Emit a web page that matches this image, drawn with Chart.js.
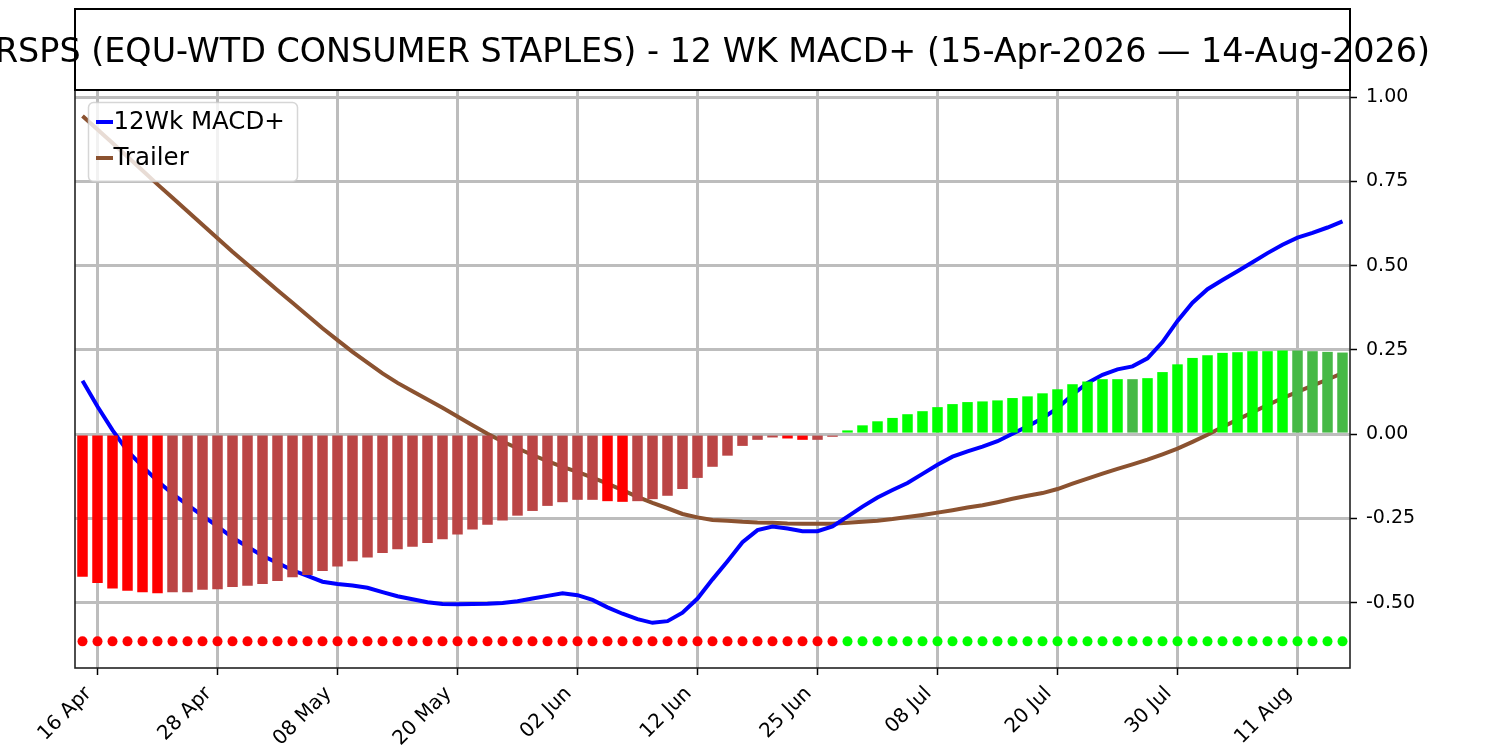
<!DOCTYPE html>
<html>
<head>
<meta charset="utf-8">
<title>RSPS 12 WK MACD+</title>
<script src="https://cdn.jsdelivr.net/npm/chart.js@4.4.1/dist/chart.umd.min.js"></script>
<style>
  body { margin: 0; background: #fff; }
  #wrap { width: 1500px; height: 750px; }
</style>
</head>
<body>
<div id="wrap"><canvas id="macdChart" width="1500" height="750"></canvas></div>
<script>
// Trading days on the chart (15 Apr - 14 Aug 2026)
const days = [
    '15 Apr', '16 Apr', '17 Apr', '20 Apr', '21 Apr', '22 Apr', '23 Apr', '24 Apr', '27 Apr', '28 Apr',
    '29 Apr', '30 Apr', '01 May', '04 May', '05 May', '06 May', '07 May', '08 May', '11 May', '12 May',
    '13 May', '14 May', '15 May', '18 May', '19 May', '20 May', '21 May', '22 May', '26 May', '27 May',
    '28 May', '29 May', '01 Jun', '02 Jun', '03 Jun', '04 Jun', '05 Jun', '08 Jun', '09 Jun', '10 Jun',
    '11 Jun', '12 Jun', '15 Jun', '16 Jun', '17 Jun', '18 Jun', '22 Jun', '23 Jun', '24 Jun', '25 Jun',
    '26 Jun', '29 Jun', '30 Jun', '01 Jul', '02 Jul', '06 Jul', '07 Jul', '08 Jul', '09 Jul', '10 Jul',
    '13 Jul', '14 Jul', '15 Jul', '16 Jul', '17 Jul', '20 Jul', '21 Jul', '22 Jul', '23 Jul', '24 Jul',
    '27 Jul', '28 Jul', '29 Jul', '30 Jul', '31 Jul', '03 Aug', '04 Aug', '05 Aug', '06 Aug', '07 Aug',
    '10 Aug', '11 Aug', '12 Aug', '13 Aug', '14 Aug'
];

// 12Wk MACD+ line
const macdPlus = [
    0.158, 0.082, 0.012, -0.050, -0.096, -0.139, -0.177, -0.210, -0.242, -0.274,
    -0.307, -0.334, -0.361, -0.382, -0.404, -0.421, -0.438, -0.445, -0.449, -0.456,
    -0.469, -0.481, -0.490, -0.499, -0.504, -0.505, -0.504, -0.503, -0.501, -0.496,
    -0.488, -0.480, -0.472, -0.478, -0.492, -0.514, -0.533, -0.549, -0.560, -0.555,
    -0.530, -0.488, -0.431, -0.377, -0.321, -0.285, -0.274, -0.280, -0.288, -0.288,
    -0.274, -0.245, -0.215, -0.188, -0.166, -0.145, -0.118, -0.091, -0.067, -0.051,
    -0.037, -0.021, 0.001, 0.023, 0.047, 0.077, 0.117, 0.152, 0.176, 0.192,
    0.201, 0.225, 0.273, 0.336, 0.390, 0.430, 0.457, 0.483, 0.510, 0.537,
    0.562, 0.583, 0.597, 0.613, 0.631
];

// Trailer (signal) line
const trailer = [
    0.944, 0.904, 0.864, 0.823, 0.782, 0.741, 0.701, 0.661, 0.621, 0.581,
    0.541, 0.503, 0.465, 0.427, 0.390, 0.352, 0.314, 0.279, 0.244, 0.212,
    0.180, 0.152, 0.127, 0.103, 0.078, 0.052, 0.026, 0.001, -0.022, -0.042,
    -0.062, -0.080, -0.097, -0.112, -0.129, -0.147, -0.166, -0.186, -0.204, -0.220,
    -0.237, -0.247, -0.255, -0.257, -0.260, -0.262, -0.263, -0.265, -0.266, -0.266,
    -0.266, -0.263, -0.260, -0.257, -0.252, -0.246, -0.240, -0.233, -0.226, -0.218,
    -0.211, -0.202, -0.192, -0.183, -0.175, -0.163, -0.147, -0.132, -0.117, -0.103,
    -0.090, -0.076, -0.060, -0.043, -0.023, -0.002, 0.021, 0.043, 0.065, 0.086,
    0.107, 0.125, 0.144, 0.162, 0.181
];

// Histogram bars
const histogram = [
    -0.423, -0.442, -0.458, -0.465, -0.469, -0.472, -0.469, -0.469, -0.462, -0.460,
    -0.454, -0.450, -0.445, -0.436, -0.425, -0.418, -0.406, -0.393, -0.377, -0.366,
    -0.353, -0.342, -0.334, -0.323, -0.312, -0.298, -0.283, -0.269, -0.256, -0.242,
    -0.228, -0.213, -0.202, -0.195, -0.195, -0.199, -0.201, -0.199, -0.193, -0.183,
    -0.163, -0.130, -0.097, -0.064, -0.035, -0.017, -0.010, -0.013, -0.017, -0.017,
    -0.008, 0.011, 0.026, 0.038, 0.048, 0.059, 0.068, 0.080, 0.089, 0.095,
    0.097, 0.100, 0.107, 0.112, 0.121, 0.133, 0.148, 0.156, 0.163, 0.163,
    0.163, 0.166, 0.184, 0.207, 0.226, 0.234, 0.241, 0.243, 0.246, 0.246,
    0.248, 0.248, 0.246, 0.244, 0.242
];

// Bar shade per day: R/r = falling/rising below zero, G/g = rising/falling above zero
const histTone = (
    'RRRRRRrrrr' + 'rrrrrrrrrr' + 'rrrrrrrrrr' + 'rrrrrRRrrr' + 'rrrrrrrRRr' +
    'rGGGGGGGGG' + 'GGGGGGGGGG' + 'gGGGGGGGGG' + 'Ggggg'
).split('');

const yTicks = [-0.50, -0.25, 0.00, 0.25, 0.50, 0.75, 1.00];
const signalLevel = -0.615;
const titleText = 'RSPS (EQU-WTD CONSUMER STAPLES) - 12 WK MACD+ (15-Apr-2026 \u2014 14-Aug-2026)';

const FONT = '"DejaVu Sans", "Liberation Sans", sans-serif';
const toneColors = { R: '#ff0000', r: '#bb4545', G: '#00ff00', g: '#46b946' };
const gridColor = '#bdbdbd';

// title box, legend and spines (matplotlib look)
const frame = {
    id: 'frame',
    afterDatasetsDraw(chart) {
        const ctx = chart.ctx;
        ctx.save();
        // legend box
        const x = 88.5, y = 102.5, w = 209, h = 79, r = 5;
        ctx.beginPath();
        ctx.moveTo(x + r, y);
        ctx.arcTo(x + w, y, x + w, y + h, r);
        ctx.arcTo(x + w, y + h, x, y + h, r);
        ctx.arcTo(x, y + h, x, y, r);
        ctx.arcTo(x, y, x + w, y, r);
        ctx.closePath();
        ctx.fillStyle = 'rgba(255,255,255,0.8)';
        ctx.fill();
        ctx.strokeStyle = 'rgba(204,204,204,0.8)';
        ctx.lineWidth = 1.5;
        ctx.stroke();

        const items = [
            { text: '12Wk MACD+', color: '#0000ff', y: 122 },
            { text: 'Trailer', color: '#8b5230', y: 158 }
        ];
        ctx.font = '24.5px ' + FONT;
        ctx.textBaseline = 'middle';
        ctx.textAlign = 'left';
        items.forEach(it => {
            ctx.strokeStyle = it.color;
            ctx.lineWidth = 4;
            ctx.beginPath();
            ctx.moveTo(96, it.y);
            ctx.lineTo(113, it.y);
            ctx.stroke();
            ctx.fillStyle = '#000';
            ctx.fillText(it.text, 113.5, it.y + 1);
        });
        ctx.restore();
    },
    afterDraw(chart) {
        const ctx = chart.ctx;
        const a = chart.chartArea;
        ctx.save();
        // spines
        ctx.strokeStyle = '#222';
        ctx.lineWidth = 1.6;
        ctx.strokeRect(a.left, a.top, a.right - a.left, a.bottom - a.top);
        // title box
        ctx.fillStyle = '#fff';
        ctx.fillRect(a.left, 9, a.right - a.left, a.top - 9);
        ctx.strokeStyle = '#000';
        ctx.lineWidth = 2;
        ctx.strokeRect(a.left, 9, a.right - a.left, a.top - 9);
        ctx.fillStyle = '#000';
        ctx.font = '33.4px ' + FONT;
        ctx.textAlign = 'center';
        ctx.textBaseline = 'alphabetic';
        ctx.fillText(titleText, (a.left + a.right) / 2, 62);
        ctx.restore();
    }
};

new Chart(document.getElementById('macdChart'), {
    type: 'bar',
    data: {
        labels: days,
        datasets: [
            {
                type: 'line',
                label: '12Wk MACD+',
                data: macdPlus,
                borderColor: '#0000ff',
                borderWidth: 4,
                pointRadius: 0,
                order: 2
            },
            {
                type: 'line',
                label: 'Trailer',
                data: trailer,
                borderColor: '#8b5230',
                borderWidth: 4,
                pointRadius: 0,
                order: 3
            },
            {
                label: 'Histogram',
                data: histogram,
                backgroundColor: histTone.map(t => toneColors[t]),
                barPercentage: 0.7,
                categoryPercentage: 1,
                order: 1
            },
            {
                type: 'line',
                label: 'Signal',
                data: histogram.map(() => signalLevel),
                showLine: false,
                pointRadius: 5,
                pointBorderWidth: 0,
                pointBackgroundColor: histogram.map(v => v < 0 ? '#ff0000' : '#00ff00'),
                order: 0
            }
        ]
    },
    options: {
        responsive: false,
        animation: false,
        layout: { padding: { left: 75, top: 90, right: 0, bottom: 0 } },
        plugins: {
            legend: { display: false },
            tooltip: { enabled: false }
        },
        scales: {
            x: {
                offset: true,
                afterBuildTicks: s => { s.ticks = s.ticks.filter(t => (t.value - 1) % 8 === 0); },
                afterFit: s => { s.height = 82; },
                grid: { offset: false, color: gridColor, lineWidth: 3, tickColor: '#000', tickLength: 7, tickWidth: 1.5 },
                border: { display: false },
                ticks: {
                    autoSkip: false,
                    minRotation: 45,
                    maxRotation: 45,
                    padding: 7,
                    labelOffset: -9,
                    color: '#000',
                    font: { family: FONT, size: 20 }
                }
            },
            y: {
                position: 'right',
                min: -0.694,
                max: 1.021,
                afterBuildTicks: s => { s.ticks = yTicks.map(v => ({ value: v })); },
                afterFit: s => { s.width = 150; },
                grid: { color: gridColor, lineWidth: 3, tickColor: '#000', tickLength: 7, tickWidth: 1.5 },
                border: { display: false },
                ticks: {
                    padding: 9,
                    color: '#000',
                    font: { family: FONT, size: 19 },
                    callback: v => v.toFixed(2)
                }
            }
        }
    },
    plugins: [frame]
});
</script>
</body>
</html>
